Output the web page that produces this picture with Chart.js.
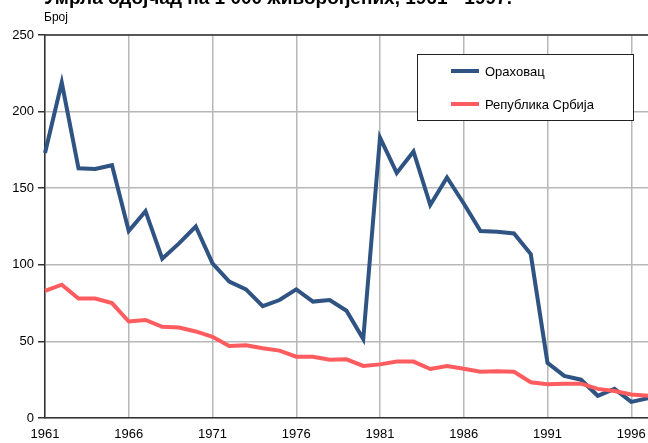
<!DOCTYPE html>
<html>
<head>
<meta charset="utf-8">
<script src="https://cdn.jsdelivr.net/npm/chart.js@4.4.1/dist/chart.umd.min.js"></script>
<style>
  html, body { margin: 0; padding: 0; background: #fff; }
  #wrap { width: 648px; height: 443px; position: relative; }
</style>
</head>
<body>
<div id="wrap"><canvas id="infantChart" width="648" height="443"></canvas></div>
<script>
// === Data ===
const TITLE = 'Умрла одојчад на 1 000 живорођених, 1961 - 1997.';
const UNIT_LABEL = 'Број';
const YEARS = [1961, 1962, 1963, 1964, 1965, 1966, 1967, 1968, 1969, 1970,
    1971, 1972, 1973, 1974, 1975, 1976, 1977, 1978, 1979, 1980,
    1981, 1982, 1983, 1984, 1985, 1986, 1987, 1988, 1989, 1990,
    1991, 1992, 1993, 1994, 1995, 1996, 1997];
const ORAHOVAC = [173, 219, 163, 162.5, 165, 122, 135, 104, 114, 125,
    101, 89, 84, 73, 77, 84, 76, 77, 70, 51.5,
    183, 160, 174, 139, 157, 140, 122, 121.5, 120.5, 107,
    36, 27.5, 25, 14.5, 19, 10.5, 13];
const SERBIA = [83, 87, 78, 78, 75, 63, 64, 59.5, 59, 56.5,
    53, 47, 47.5, 45.5, 44, 40, 40, 38, 38.3, 34,
    35, 36.8, 36.8, 32, 34, 32.2, 30.2, 30.5, 30.2, 23.3,
    22, 22.4, 22.4, 19, 17.6, 15.4, 14.6];
const Y_TICKS = [0, 50, 100, 150, 200, 250];

const BLUE = '#2f5382';
const RED = '#ff5c5f';
const GRID = '#b8b8b8';
const AXIS = '#333333';
const FONT = "'Liberation Sans', Arial, sans-serif";

// title + legend box drawn by hand, like the original layout
const decorPlugin = {
    id: 'decor',
    afterDraw(chart) {
        const c = chart.ctx;
        c.save();
        c.fillStyle = '#000';
        c.textAlign = 'left';
        c.textBaseline = 'alphabetic';
        c.font = `bold 19px ${FONT}`;
        c.fillText(TITLE, 44, 4);
        c.font = `12px ${FONT}`;
        c.fillText(UNIT_LABEL, 44, 21);

        // top border of the plot
        const a = chart.chartArea;
        c.strokeStyle = AXIS;
        c.lineWidth = 1.5;
        c.beginPath();
        c.moveTo(a.left, a.top);
        c.lineTo(a.right, a.top);
        c.stroke();

        // legend
        const bx = 417.5, by = 54.5, bw = 216, bh = 66;
        c.fillStyle = '#fff';
        c.fillRect(bx, by, bw, bh);
        c.strokeStyle = '#222';
        c.lineWidth = 1;
        c.strokeRect(bx, by, bw, bh);
        c.font = `13px ${FONT}`;
        c.textBaseline = 'middle';
        chart.data.datasets.forEach((ds, i) => {
            const y = 71 + i * 33;
            c.strokeStyle = ds.borderColor;
            c.lineWidth = 4;
            c.beginPath();
            c.moveTo(451, y);
            c.lineTo(479, y);
            c.stroke();
            c.fillStyle = '#000';
            c.fillText(ds.label, 485, y + 1);
        });
        c.restore();
    }
};

const ctx = document.getElementById('infantChart');
new Chart(ctx, {
    type: 'line',
    data: {
        labels: YEARS.map(String),
        datasets: [{
            label: 'Ораховац',
            data: ORAHOVAC,
            borderColor: BLUE,
            borderWidth: 4,
            pointRadius: 0,
            tension: 0,
            order: 1
        }, {
            label: 'Република Србија',
            data: SERBIA,
            borderColor: RED,
            borderWidth: 4,
            pointRadius: 0,
            tension: 0,
            order: 0
        }]
    },
    options: {
        responsive: false,
        animation: false,
        layout: { padding: { top: 35, right: 0, left: 0, bottom: 0 } },
        plugins: {
            legend: { display: false },
            title: { display: false },
            tooltip: { enabled: false }
        },
        scales: {
            x: {
                offset: false,
                afterFit: (s) => {
                    s.height = 25;
                    s.paddingLeft = 0;
                    s.paddingRight = 0;
                },
                border: { color: AXIS, width: 1.5 },
                grid: {
                    drawTicks: false,
                    lineWidth: 1.5,
                    color: (c) => (c.index % 5 === 0 ? GRID : 'rgba(0,0,0,0)')
                },
                ticks: {
                    autoSkip: false,
                    maxRotation: 0,
                    padding: 9,
                    color: '#000',
                    font: { family: FONT, size: 13 },
                    callback: (v, i) => (i % 5 === 0 ? YEARS[i] : '')
                }
            },
            y: {
                min: 0,
                max: 250,
                afterFit: (s) => {
                    s.width = 45;
                    s.paddingTop = 0;
                    s.paddingBottom = 0;
                },
                afterBuildTicks: (s) => { s.ticks = Y_TICKS.map(v => ({ value: v })); },
                border: { color: AXIS, width: 1.5 },
                grid: {
                    lineWidth: 1.5,
                    color: GRID,
                    tickColor: AXIS,
                    tickLength: 7
                },
                ticks: {
                    padding: 4,
                    color: '#000',
                    font: { family: FONT, size: 13 }
                }
            }
        }
    },
    plugins: [decorPlugin]
});
</script>
</body>
</html>
